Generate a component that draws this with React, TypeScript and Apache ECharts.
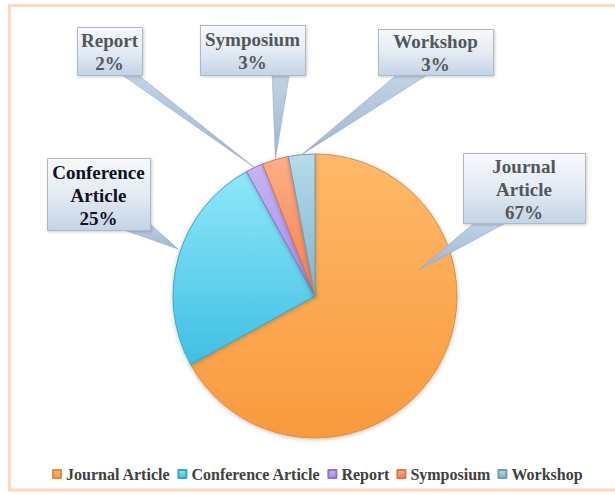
import React, { useEffect, useRef } from "react";
import * as echarts from "echarts";

const categories = ["Journal Article", "Conference Article", "Report", "Symposium", "Workshop"];
const values = [67, 25, 2, 3, 3];

// label texts (line-broken) for the callouts
const calloutNames = ["Journal\nArticle", "Conference\nArticle", "Report", "Symposium", "Workshop"];

const colorStops: [string, string][] = [
  ["#FFB968", "#F89A3E"],
  ["#8FE8FA", "#3FBFE3"],
  ["#C8B4F6", "#A48AE4"],
  ["#FFAE86", "#F3804F"],
  ["#B6DBEA", "#80B4CB"],
];
const borderColors = ["#D98E45", "#3AA6C6", "#8E77C8", "#D9774E", "#6E9FB6"];

const CX = 315;
const CY = 296;
const R = 142;

// layout of callout boxes and wedge anchors (positions only)
const boxes = [
  { x: 463, y: 153, w: 122, h: 70, color: "#52575D", base: [[480, 218], [515, 218]], f: 0.315, rf: 0.75 },
  { x: 47, y: 158, w: 103, h: 72, color: "#101020", base: [[113, 226], [146, 220]], f: 0.53, rf: 1.02 },
  { x: 77, y: 27, w: 65, h: 48, color: "#52575D", base: [[115, 70], [132, 70]], f: 0.5, rf: 1.0 },
  { x: 200, y: 25, w: 105, h: 50, color: "#52575D", base: [[272, 70], [290, 70]], f: 0.5, rf: 1.0 },
  { x: 378, y: 29, w: 115, h: 46, color: "#52575D", base: [[400, 72], [432, 72]], f: 0.5, rf: 1.0 },
];

export default function App() {
  const ref = useRef<HTMLDivElement>(null);
  useEffect(() => {
    if (!ref.current) return;
    const chart = echarts.init(ref.current, undefined, { renderer: "svg" });
    const total = values.reduce((a, b) => a + b, 0);

    const graphics: any[] = [];
    // frame
    graphics.push({
      type: "rect",
      z: 0,
      shape: { x: 9.5, y: 5.5, width: 620, height: 484.5 },
      style: { fill: "#FFFFFF", stroke: "#FAD9BD", lineWidth: 3 },
    });

    let cum = 0;
    values.forEach((v, i) => {
      const start = (cum / total) * 360;
      const span = (v / total) * 360;
      cum += v;
      const b = boxes[i];
      const theta = ((start + b.f * span) * Math.PI) / 180;
      const tx = CX + b.rf * R * Math.sin(theta);
      const ty = CY - b.rf * R * Math.cos(theta);
      graphics.push({
        type: "polygon",
        z: 10,
        shape: { points: [b.base[0], b.base[1], [tx, ty]] },
        style: {
          fill: new echarts.graphic.LinearGradient(0, 0, 0, 1, [
            { offset: 0, color: "#C4D4E7" },
            { offset: 1, color: "#9DB5D2" },
          ]),
          stroke: "rgba(140,160,185,0.6)",
          lineWidth: 0.8,
        },
      });
      graphics.push({
        type: "rect",
        z: 11,
        shape: { x: b.x + 0.5, y: b.y + 0.5, width: b.w, height: b.h },
        style: {
          fill: new echarts.graphic.LinearGradient(0, 0, 0, 1, [
            { offset: 0, color: "#F7F9FC" },
            { offset: 0.5, color: "#E4EBF4" },
            { offset: 1, color: "#C3D3E6" },
          ]),
          stroke: "#AEB9C6",
          lineWidth: 1,
          shadowBlur: 3,
          shadowColor: "rgba(0,0,0,0.2)",
          shadowOffsetX: 1,
          shadowOffsetY: 1,
        },
      });
      graphics.push({
        type: "text",
        z: 12,
        style: {
          x: b.x + b.w / 2,
          y: b.y + b.h / 2 + 1,
          text: calloutNames[i] + "\n" + Math.round((v / total) * 100) + "%",
          align: "center",
          verticalAlign: "middle",
          font: 'bold 19px "Liberation Serif", "Times New Roman", serif',
          lineHeight: 23,
          fill: b.color,
        },
      });
    });

    chart.setOption({
      animation: false,
      backgroundColor: "#FFFFFF",
      legend: {
        data: categories,
        bottom: 8,
        left: 47,
        icon: "rect",
        itemWidth: 8,
        itemHeight: 8,
        itemGap: 7,
        textStyle: {
          fontFamily: '"Liberation Serif", "Times New Roman", serif',
          fontWeight: "bold",
          fontSize: 16,
          color: "#404040",
        },
      },
      graphic: graphics,
      series: [
        {
          type: "pie",
          z: 5,
          center: [CX, CY],
          radius: R,
          startAngle: 90,
          clockwise: true,
          label: { show: false },
          labelLine: { show: false },
          emphasis: { disabled: true },
          data: categories.map((c, i) => ({
            name: c,
            value: values[i],
            itemStyle: {
              color: new echarts.graphic.LinearGradient(0, 0, 0, 1, [
                { offset: 0, color: colorStops[i][0] },
                { offset: 1, color: colorStops[i][1] },
              ]),
              borderColor: borderColors[i],
              borderWidth: 1,
              shadowBlur: 4,
              shadowColor: "rgba(0,0,0,0.25)",
              shadowOffsetY: 1,
            },
          })),
        },
      ],
    });
    return () => chart.dispose();
  }, []);
  return (
    <div
      ref={ref}
      style={{ position: "absolute", left: 0, top: 0, width: 615, height: 495 }}
    />
  );
}
